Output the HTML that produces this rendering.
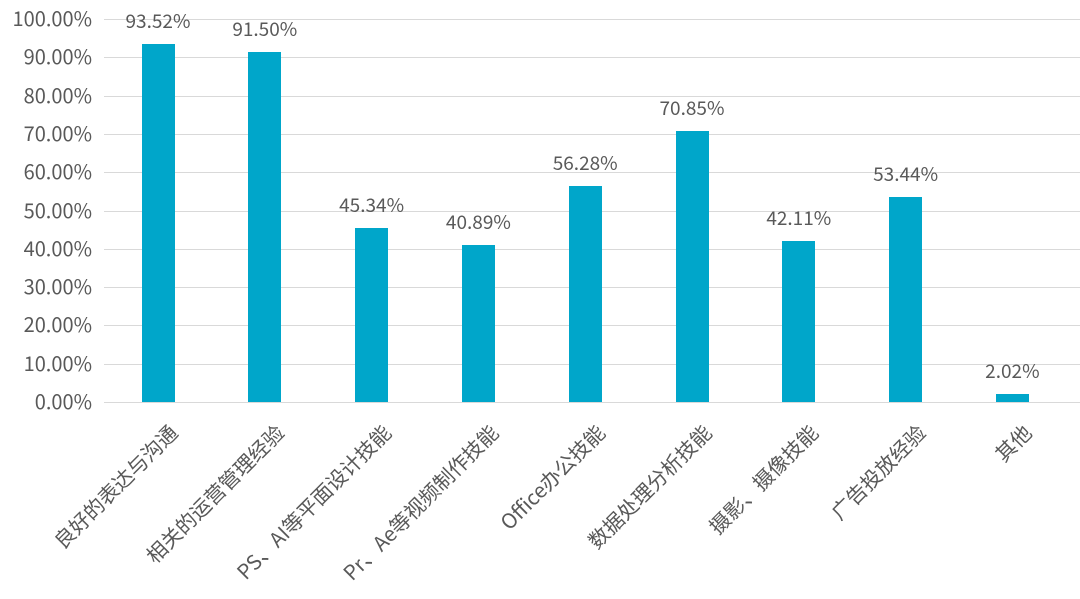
<!DOCTYPE html>
<html><head><meta charset="utf-8"><style>
body{margin:0;width:1080px;height:599px;background:#fff;position:relative;overflow:hidden;font-family:"Noto Sans CJK SC","Liberation Sans",sans-serif;color:#595959}
.g{position:absolute;left:104px;width:976px;height:1px;background:#d9d9d9}
.yl{position:absolute;right:988px;font-size:20px;line-height:20px;text-align:right}
.b{position:absolute;width:33px;background:#00a6ca;bottom:197px}
.v{position:absolute;font-size:19px;width:100px;text-align:center;line-height:20px}
.x{position:absolute;font-size:20.5px;white-space:nowrap;line-height:22px;transform-origin:100% 0;transform:rotate(-45deg);text-align:right}
</style></head><body>
<div id="c"></div>
<script>
var vals=[93.52,91.50,45.34,40.89,56.28,70.85,42.11,53.44,2.02];
var labs=["良好的表达与沟通","相关的运营管理经验","PS、AI等平面设计技能","Pr、Ae等视频制作技能","Office办公技能","数据处理分析技能","摄影、摄像技能","广告投放经验","其他"];
var h="",z=402,u=3.83;
for(var i=0;i<=10;i++){var y=z-i*10*u;h+='<div class="g" style="top:'+Math.round(y)+'px"></div><div class="yl" style="top:'+(y-11)+'px">'+(i*10)+'.00%</div>';}
for(var i=0;i<9;i++){var cx=158+i*106.8,hh=vals[i]*u;
h+='<div class="b" style="left:'+(cx-16.5)+'px;height:'+hh+'px"></div>';
h+='<div class="v" style="left:'+(cx-50)+'px;top:'+(z-hh-33)+'px">'+vals[i].toFixed(2)+'%</div>';
h+='<div class="x" style="right:'+(1080-cx-7)+'px;top:420px">'+labs[i]+'</div>';}
document.getElementById("c").innerHTML=h;
</script>
</body></html>
